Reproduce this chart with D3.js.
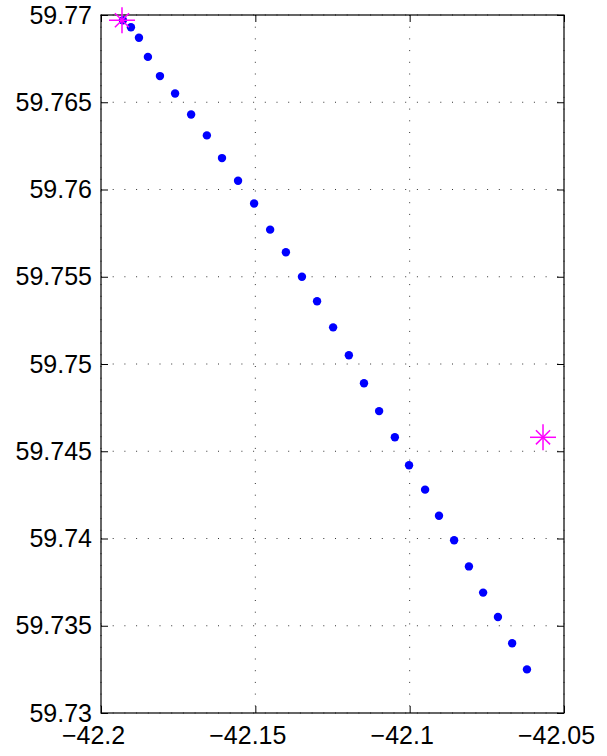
<!DOCTYPE html>
<html>
<head>
<meta charset="utf-8">
<script src="https://cdn.jsdelivr.net/npm/d3@7"></script>
<style>
  body { margin: 0; background: #fff; }
  text { font-family: "Liberation Sans", Arial, Helvetica, sans-serif; }
</style>
</head>
<body>
<div id="chart"></div>
<script>
// track points (lon / lat)
const lon = [-42.1929, -42.1903, -42.1877, -42.1848, -42.1809, -42.1760, -42.1708, -42.1657,
  -42.1608, -42.1556, -42.1504, -42.1452, -42.1401, -42.1349, -42.1300, -42.1248, -42.1197,
  -42.1148, -42.1099, -42.1048, -42.1002, -42.0950, -42.0905, -42.0856, -42.0808, -42.0762,
  -42.0714, -42.0668, -42.0620];
const lat = [59.7697, 59.7693, 59.7687, 59.7676, 59.7665, 59.7655, 59.7643, 59.7631,
  59.7618, 59.7605, 59.7592, 59.7577, 59.7564, 59.7550, 59.7536, 59.7521, 59.7505,
  59.7489, 59.7473, 59.7458, 59.7442, 59.7428, 59.7413, 59.7399, 59.7384, 59.7369,
  59.7355, 59.7340, 59.7325];

// star markers
const starLon = [-42.1932, -42.0568];
const starLat = [59.7697, 59.7458];

// ticks
const xTicks = [-42.2, -42.15, -42.1, -42.05];
const xTickLabels = ["\u221242.2", "\u221242.15", "\u221242.1", "\u221242.05"];
const yTicks = [59.73, 59.735, 59.74, 59.745, 59.75, 59.755, 59.76, 59.765, 59.77];
const yTickLabels = ["59.73", "59.735", "59.74", "59.745", "59.75", "59.755", "59.76", "59.765", "59.77"];

const width = 607;
const height = 756;
const plotLeft = 101, plotRight = 564, plotTop = 15, plotBottom = 713;

const svg = d3.select("#chart")
    .append("svg")
    .attr("width", width)
    .attr("height", height)
    .style("background-color", "#fff");

const x = d3.scaleLinear().domain([-42.2, -42.05]).range([plotLeft, plotRight]);
const y = d3.scaleLinear().domain([59.73, 59.77]).range([plotBottom, plotTop]);

// dotted grid
svg.append("g").selectAll("line")
    .data(xTicks)
    .enter().append("line")
    .attr("x1", d => x(d)).attr("x2", d => x(d))
    .attr("y1", plotTop).attr("y2", plotBottom)
    .attr("stroke", "#333")
    .attr("stroke-width", 1)
    .attr("stroke-dasharray", "1,10.7");

svg.append("g").selectAll("line")
    .data(yTicks)
    .enter().append("line")
    .attr("y1", d => y(d)).attr("y2", d => y(d))
    .attr("x1", plotLeft).attr("x2", plotRight)
    .attr("stroke", "#333")
    .attr("stroke-width", 1)
    .attr("stroke-dasharray", "1,10.7");

// axes, ticks pointing inside
const xAxis = svg.append("g")
    .attr("transform", `translate(0,${plotBottom})`)
    .call(d3.axisBottom(x).tickValues(xTicks)
      .tickFormat((d, i) => xTickLabels[i])
      .tickSizeInner(-7).tickSizeOuter(0).tickPadding(13));
xAxis.selectAll("text").attr("x", -8);

svg.append("g")
    .attr("transform", `translate(0,${plotTop})`)
    .call(d3.axisTop(x).tickValues(xTicks).tickFormat("")
      .tickSizeInner(-7).tickSizeOuter(0));

svg.append("g")
    .attr("transform", `translate(${plotLeft},0)`)
    .call(d3.axisLeft(y).tickValues(yTicks)
      .tickFormat((d, i) => yTickLabels[i])
      .tickSizeInner(-7).tickSizeOuter(0).tickPadding(9));

svg.append("g")
    .attr("transform", `translate(${plotRight},0)`)
    .call(d3.axisRight(y).tickValues(yTicks).tickFormat("")
      .tickSizeInner(-7).tickSizeOuter(0));

svg.selectAll(".domain").remove();
svg.selectAll(".tick line").attr("stroke", "#000");
svg.selectAll(".tick text")
    .attr("fill", "#000")
    .style("font-size", "25px")
    .style("font-family", "'Liberation Sans', Arial, sans-serif");

// box
svg.append("rect")
    .attr("x", plotLeft).attr("y", plotTop)
    .attr("width", plotRight - plotLeft).attr("height", plotBottom - plotTop)
    .attr("fill", "none")
    .attr("stroke", "#000")
    .attr("stroke-width", 1.2);

// track dots
svg.append("g").selectAll("circle")
    .data(lon.map((d, i) => [d, lat[i]]))
    .enter().append("circle")
    .attr("cx", d => x(d[0]))
    .attr("cy", d => y(d[1]))
    .attr("r", 4.2)
    .attr("fill", "#0000ff");

// star markers
const stars = svg.append("g").selectAll("g")
    .data(starLon.map((d, i) => [d, starLat[i]]))
    .enter().append("g")
    .attr("transform", d => `translate(${x(d[0])},${y(d[1])})`);

[0, 45, 90, 135].forEach(a => {
  const r = a % 90 === 0 ? 13 : 10;
  stars.append("line")
    .attr("x1", -r).attr("x2", r)
    .attr("y1", 0).attr("y2", 0)
    .attr("transform", `rotate(${a})`)
    .attr("stroke", "#ff00ff")
    .attr("stroke-width", 1.5);
});
</script>
</body>
</html>
